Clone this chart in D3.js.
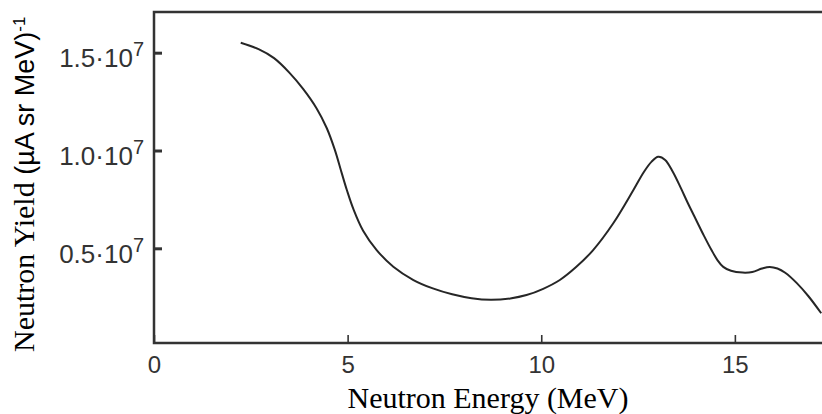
<!DOCTYPE html>
<html>
<head>
<meta charset="utf-8">
<script src="https://cdn.jsdelivr.net/npm/d3@7"></script>
<style>
	body { margin: 0; background: #fff; }
	#chart { width: 822px; height: 414px; }
</style>
</head>
<body>
<div id="chart"></div>
<script>
// values (yield in units of 1e7)
let energy = [2.24, 2.7, 3.1, 3.5, 3.85, 4.2, 4.46, 4.67, 4.85, 4.98, 5.15, 5.4, 5.75, 6.18, 6.7, 7.2, 7.7, 8.2, 8.7, 9.2, 9.62, 10.05, 10.48, 10.9, 11.34, 11.86, 12.38, 12.65, 12.85, 13.02, 13.2, 13.4, 13.6, 13.8, 14.0, 14.2, 14.4, 14.55, 14.7, 14.9, 15.2, 15.45, 15.7, 15.9, 16.1, 16.3, 16.6, 16.9, 17.23];
let yieldE7 = [1.551, 1.518, 1.472, 1.397, 1.315, 1.215, 1.115, 1.003, 0.883, 0.798, 0.7, 0.59, 0.491, 0.406, 0.338, 0.295, 0.265, 0.245, 0.237, 0.244, 0.261, 0.293, 0.338, 0.404, 0.491, 0.628, 0.798, 0.89, 0.943, 0.968, 0.952, 0.89, 0.81, 0.725, 0.645, 0.565, 0.49, 0.44, 0.405, 0.385, 0.376, 0.379, 0.397, 0.405, 0.397, 0.375, 0.322, 0.255, 0.168];

let xTicks = [0, 5, 10, 15];
let yTicks = [0.5, 1.0, 1.5];
let yTickLabels = ["0.5·10", "1.0·10", "1.5·10"];
let tickExponent = "7";
let xTitle = "Neutron Energy (MeV)";
let yTitleMain = "Neutron Yield";
let yTitleUnit = " (µA sr MeV)";
let yTitleExp = "-1";

let sans = "'Liberation Sans', Arial, sans-serif";
let serif = "'Liberation Serif', 'Times New Roman', serif";
let ink = "#333";

let data = energy.map((e, i) => ({ e: e, v: yieldE7[i] }));

let svg = d3.select("#chart").append("svg").attr("width", 822).attr("height", 414);

let x = d3.scaleLinear().domain([0, 17.25]).range([154, 822]);
let y = d3.scaleLinear().domain([0.016, 1.708]).range([343, 12]);

let [x0, x1] = x.range();
let [yb, yt] = y.range();

// x axis: ticks point inward
svg
	.append("g")
	.attr("transform", `translate(0,${yb})`)
	.call(
		d3.axisBottom(x).tickValues(xTicks).tickSizeInner(-8).tickSizeOuter(0).tickPadding(13)
	)
	.call((g) => g.select(".domain").remove())
	.call((g) => g.selectAll("line").attr("stroke", ink).attr("stroke-width", 1.6))
	.call((g) =>
		g.selectAll("text").attr("font-family", sans).attr("font-size", 24).attr("fill", ink)
	);

// y axis
svg
	.append("g")
	.attr("transform", `translate(${x0},0)`)
	.call(d3.axisLeft(y).tickValues(yTicks).tickSizeInner(-8).tickSizeOuter(0).tickPadding(10))
	.call((g) => g.select(".domain").remove())
	.call((g) => g.selectAll("line").attr("stroke", ink).attr("stroke-width", 3))
	.call((g) =>
		g
			.selectAll("text")
			.attr("font-family", sans)
			.attr("font-size", 26)
			.attr("fill", ink)
			.attr("dy", "0.53em")
			.text((d, i) => yTickLabels[i])
			.append("tspan")
			.attr("font-size", 20)
			.attr("dy", -11)
			.text(tickExponent)
	);

// frame: left, top and bottom sides only
svg
	.append("path")
	.attr("d", `M${x1},${yt}H${x0}V${yb}H${x1}`)
	.attr("fill", "none")
	.attr("stroke", ink)
	.attr("stroke-width", 2.5);

// curve
let line = d3
	.line()
	.x((d) => x(d.e))
	.y((d) => y(d.v))
	.curve(d3.curveCatmullRom.alpha(0.5));

svg
	.append("path")
	.datum(data)
	.attr("d", line)
	.attr("fill", "none")
	.attr("stroke", "#262626")
	.attr("stroke-width", 2);

// axis titles
svg
	.append("text")
	.attr("x", 488)
	.attr("y", 408)
	.attr("text-anchor", "middle")
	.attr("font-family", serif)
	.attr("font-size", 30)
	.attr("fill", "#000")
	.text(xTitle);

let yLabel = svg
	.append("text")
	.attr("transform", "translate(34,352) rotate(-90)")
	.attr("fill", "#000");
yLabel.append("tspan").attr("font-family", serif).attr("font-size", 30).text(yTitleMain);
yLabel.append("tspan").attr("font-family", sans).attr("font-size", 27).text(yTitleUnit);
yLabel
	.append("tspan")
	.attr("font-family", sans)
	.attr("font-size", 17)
	.attr("dy", -9)
	.text(yTitleExp);
</script>
</body>
</html>
